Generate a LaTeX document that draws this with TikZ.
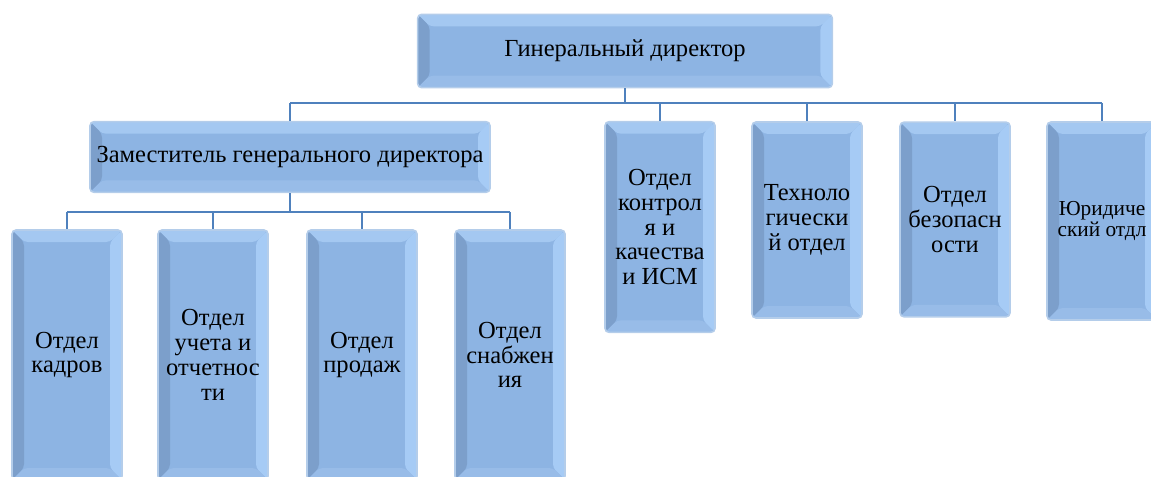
\documentclass[tikz,border=0pt]{standalone}
\usepackage{fontspec}
\setmainfont{Liberation Serif}
\usepackage{xcolor}
\definecolor{boxmid}{HTML}{8DB4E3}
\definecolor{bevtop}{HTML}{A4C8F1}
\definecolor{bevleft}{HTML}{7C9FCB}
\definecolor{bevright}{HTML}{A6CBF5}
\definecolor{bevbot}{HTML}{98BCE8}
\definecolor{boxedge}{HTML}{B4CDEA}
\definecolor{linkblue}{HTML}{4F81BD}
\newcommand{\bev}{9pt}
\tikzset{
  orgbox/.style={rectangle, rounded corners=3pt, inner sep=0pt, fill=boxmid,
    draw=boxedge, line width=1.2pt, align=center,
    font=\fontsize{18.4}{18.6}\selectfont,
    path picture={
      \fill[bevtop] (path picture bounding box.north west) -- (path picture bounding box.north east)
        -- ([xshift=-\bev,yshift=-\bev]path picture bounding box.north east)
        -- ([xshift=\bev,yshift=-\bev]path picture bounding box.north west) -- cycle;
      \fill[bevleft] (path picture bounding box.north west) -- (path picture bounding box.south west)
        -- ([xshift=\bev,yshift=\bev]path picture bounding box.south west)
        -- ([xshift=\bev,yshift=-\bev]path picture bounding box.north west) -- cycle;
      \fill[bevright] (path picture bounding box.north east) -- (path picture bounding box.south east)
        -- ([xshift=-\bev,yshift=\bev]path picture bounding box.south east)
        -- ([xshift=-\bev,yshift=-\bev]path picture bounding box.north east) -- cycle;
      \fill[bevbot] (path picture bounding box.south west) -- (path picture bounding box.south east)
        -- ([xshift=-\bev,yshift=\bev]path picture bounding box.south east)
        -- ([xshift=\bev,yshift=\bev]path picture bounding box.south west) -- cycle;
    }},
  deptbox/.style={orgbox, minimum width=82.5pt},
  link/.style={draw=linkblue, line width=1.5pt}
}
\begin{document}
\begin{tikzpicture}[x=0.75pt,y=0.75pt,yscale=-1,xscale=1]
\useasboundingbox (0,0) rectangle (1151,477);

% top level
\node[orgbox, minimum width=311pt, minimum height=55pt] (gen) at (625,51) {Гинеральный директор};
\node[orgbox, minimum width=300pt, minimum height=53pt] (zam) at (290,157) {Заместитель генерального директора};

% right column
\node[deptbox, minimum height=158pt] (kontr) at (660,227) {Отдел\\контрол\\я и\\качества\\и ИСМ};
\node[deptbox, minimum height=147pt] (tech) at (807,220) {Техноло\\гически\\й отдел};
\node[deptbox, minimum height=146pt] (bez) at (955,219.5) {Отдел\\безопасн\\ости};
\node[deptbox, minimum height=148.5pt, font=\fontsize{16}{15.5}\selectfont] (yur) at (1102,221) {Юридиче\\ский отдл};

% bottom row
\node[deptbox, minimum height=187.5pt] (kadr) at (67,355) {Отдел\\кадров};
\node[deptbox, minimum height=187.5pt] (uchet) at (213,355) {Отдел\\учета и\\отчетнос\\ти};
\node[deptbox, minimum height=187.5pt] (prod) at (362,355) {Отдел\\продаж};
\node[deptbox, minimum height=187.5pt] (snab) at (510,355) {Отдел\\снабжен\\ия};

% connectors
\coordinate (genbus) at (625,103);
\coordinate (zambus) at (290,212);
\draw[link] (gen.south) -- (genbus);
\draw[link] (genbus -| zam.north) -- (genbus -| yur.north);
\foreach \n in {zam,kontr,tech,bez,yur}
  \draw[link] (genbus -| \n.north) -- (\n.north);
\draw[link] (zam.south) -- (zambus);
\draw[link] (zambus -| kadr.north) -- (zambus -| snab.north);
\foreach \n in {kadr,uchet,prod,snab}
  \draw[link] (zambus -| \n.north) -- (\n.north);

\end{tikzpicture}
\end{document}
